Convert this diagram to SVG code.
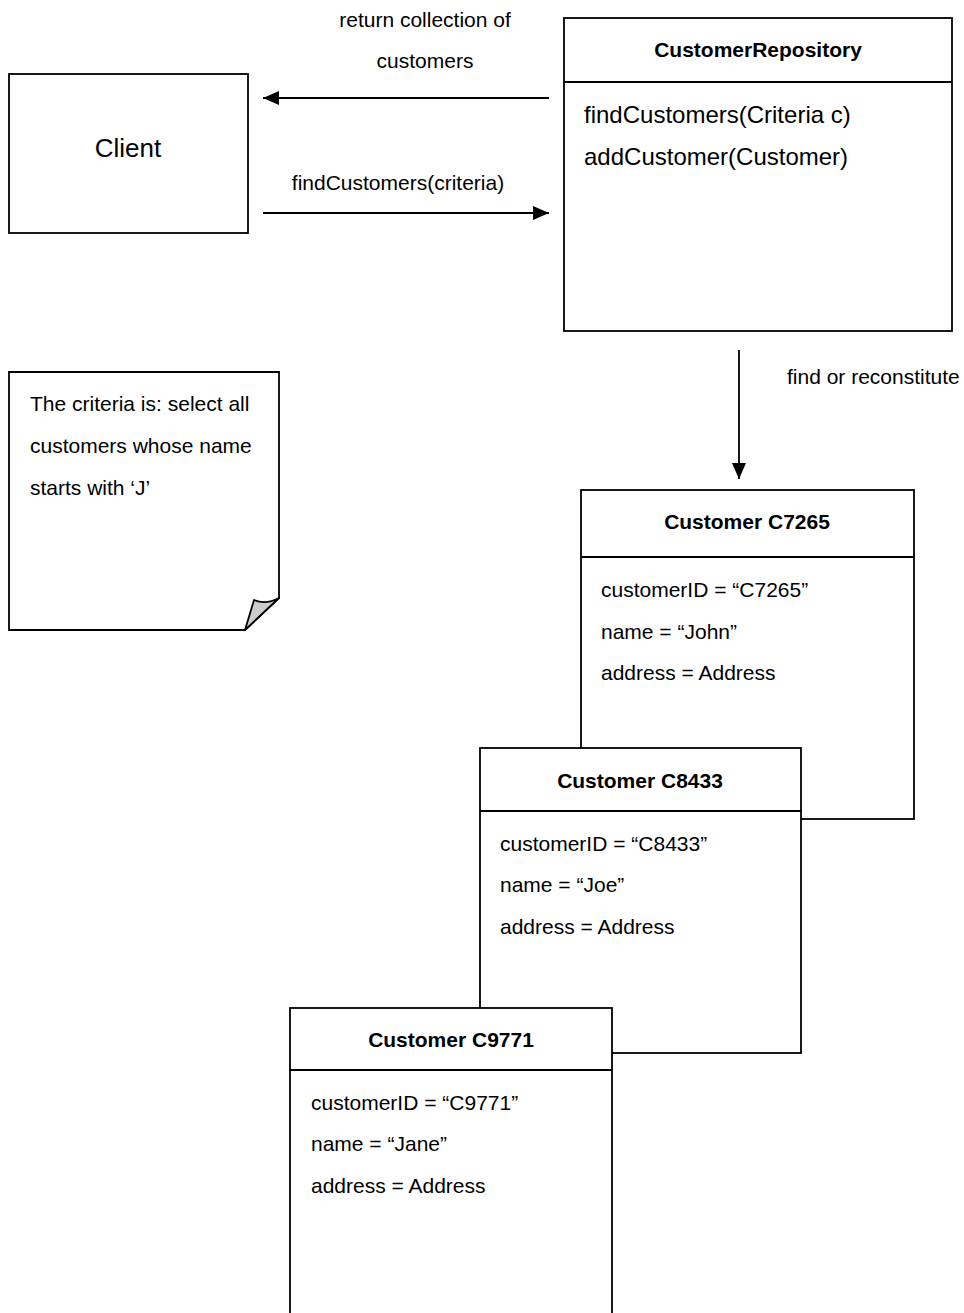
<svg xmlns="http://www.w3.org/2000/svg" width="964" height="1313" viewBox="0 0 964 1313">
  <style>
    .box { fill: #fff; stroke: #000; stroke-width: 1.8; }
    .ln { stroke: #000; stroke-width: 1.8; fill: none; }
    .t { font-family: "Liberation Sans", Arial, sans-serif; font-size: 21px; fill: #000; }
    .b { font-family: "Liberation Sans", Arial, sans-serif; font-size: 21px; font-weight: bold; fill: #000; }
    .m { font-family: "Liberation Sans", Arial, sans-serif; font-size: 24px; fill: #000; }
  </style>
  <defs>
    <marker id="arrow" markerWidth="17" markerHeight="16" refX="16" refY="8" orient="auto" markerUnits="userSpaceOnUse">
      <path d="M0,1 L16,8 L0,15 Z" fill="#000"/>
    </marker>
  </defs>

  <!-- Client -->
  <g id="client">
    <rect class="box" x="9" y="74" width="239" height="159"/>
    <text class="t" x="128" y="157" text-anchor="middle" style="font-size:26px">Client</text>
  </g>

  <!-- CustomerRepository -->
  <g id="repository">
    <rect class="box" x="564" y="18" width="388" height="313"/>
    <line class="ln" x1="564" y1="82" x2="952" y2="82"/>
    <text class="b" x="758" y="57" text-anchor="middle">CustomerRepository</text>
    <text class="m" x="584" y="123">findCustomers(Criteria c)</text>
    <text class="m" x="584" y="165">addCustomer(Customer)</text>
  </g>

  <!-- Note -->
  <g id="note">
    <path class="box" d="M9,372 H279 V598 L245,630 H9 Z"/>
    <path d="M279,598 Q266,605 254,600 L245,630 Z" fill="#ccc" stroke="#000" stroke-width="1.8" stroke-linejoin="round"/>
    <text class="t" x="30" y="411">The criteria is: select all</text>
    <text class="t" x="30" y="453">customers whose name</text>
    <text class="t" x="30" y="495">starts with ‘J’</text>
  </g>

  <!-- Customer C7265 -->
  <g id="customer-c7265">
    <rect class="box" x="581" y="490" width="333" height="329"/>
    <line class="ln" x1="581" y1="557" x2="914" y2="557"/>
    <text class="b" x="747" y="529" text-anchor="middle">Customer C7265</text>
    <text class="t" x="601" y="597">customerID = “C7265”</text>
    <text class="t" x="601" y="639">name = “John”</text>
    <text class="t" x="601" y="680">address = Address</text>
  </g>

  <!-- Customer C8433 -->
  <g id="customer-c8433">
    <rect class="box" x="480" y="748" width="321" height="305"/>
    <line class="ln" x1="480" y1="811" x2="801" y2="811"/>
    <text class="b" x="640" y="788" text-anchor="middle">Customer C8433</text>
    <text class="t" x="500" y="851">customerID = “C8433”</text>
    <text class="t" x="500" y="892">name = “Joe”</text>
    <text class="t" x="500" y="934">address = Address</text>
  </g>

  <!-- Customer C9771 -->
  <g id="customer-c9771">
    <rect class="box" x="290" y="1008" width="322" height="320"/>
    <line class="ln" x1="290" y1="1070" x2="612" y2="1070"/>
    <text class="b" x="451" y="1047" text-anchor="middle">Customer C9771</text>
    <text class="t" x="311" y="1110">customerID = “C9771”</text>
    <text class="t" x="311" y="1151">name = “Jane”</text>
    <text class="t" x="311" y="1193">address = Address</text>
  </g>

  <!-- Connectors -->
  <g id="connectors">
    <line class="ln" x1="549" y1="98" x2="263" y2="98" marker-end="url(#arrow)"/>
    <text class="t" x="425" y="27" text-anchor="middle">return collection of</text>
    <text class="t" x="425" y="68" text-anchor="middle">customers</text>
    <line class="ln" x1="263" y1="213" x2="549" y2="213" marker-end="url(#arrow)"/>
    <text class="t" x="398" y="190" text-anchor="middle">findCustomers(criteria)</text>
    <line class="ln" x1="739" y1="350" x2="739" y2="479" marker-end="url(#arrow)"/>
    <text class="t" x="787" y="384">find or reconstitute</text>
  </g>
</svg>
